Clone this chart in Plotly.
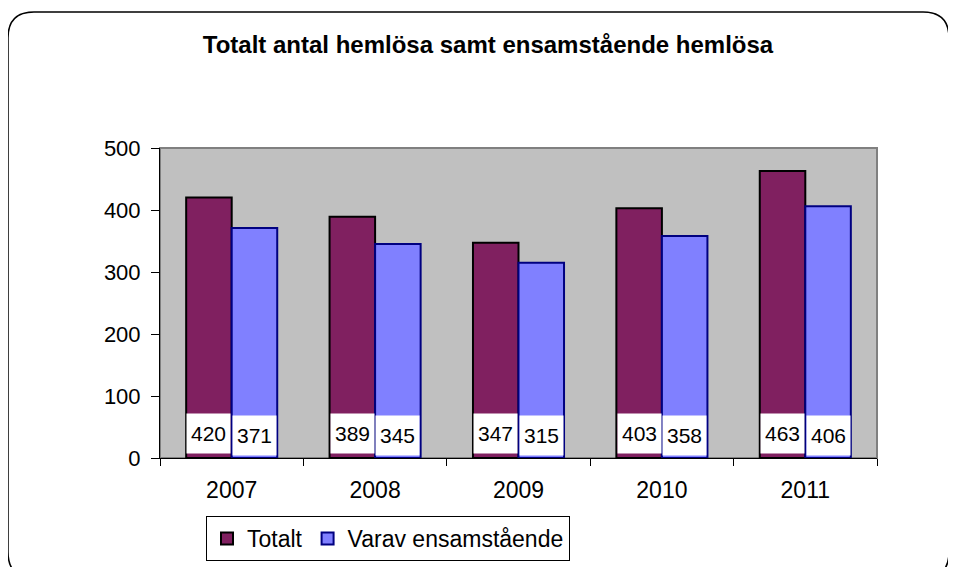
import plotly.graph_objects as go

years = ["2007", "2008", "2009", "2010", "2011"]
totalt = [420, 389, 347, 403, 463]
ensam = [371, 345, 315, 358, 406]
y_ticks = [0, 100, 200, 300, 400, 500]

OFF = 8  # page body margin
W, H = 956 - 2 * OFF, 575 - 2 * OFF
L, R, T, B = 160 - OFF, 877 - OFF, 148 - OFF, 458 - OFF

def px(X):
    return (X - OFF - L) / (R - L)

def py(Y):
    return (B - (Y - OFF)) / (B - T)

FONT = "Liberation Sans, Arial, sans-serif"

fig = go.Figure()
fig.add_trace(go.Bar(
    x=years, y=totalt, name="Totalt",
    marker=dict(color="#802060", line=dict(color="black", width=2)),
))
fig.add_trace(go.Bar(
    x=years, y=ensam, name="Varav ensamstående",
    marker=dict(color="#8080FF", line=dict(color="#000080", width=2)),
))

bar_px = 45.5
annotations = []
for i, yr in enumerate(years):
    for vals, shift, ys in ((totalt, -bar_px / 2, 0), (ensam, bar_px / 2, -2)):
        annotations.append(dict(
            x=i, y=39.5, xref="x", yref="y", xshift=shift, yshift=ys,
            text=str(vals[i]), showarrow=False,
            bgcolor="white", width=41, height=37,
            font=dict(family=FONT, size=21, color="black"),
        ))

# rounded outer border (page pixel coords -> paper coords)
x0, y0, x1, y1, r = 8, 12, 949, 578, 26
path = (
    f"M {px(x0 + r)},{py(y0)} L {px(x1 - r)},{py(y0)} "
    f"Q {px(x1)},{py(y0)} {px(x1)},{py(y0 + r)} "
    f"L {px(x1)},{py(y1 - r)} Q {px(x1)},{py(y1)} {px(x1 - r)},{py(y1)} "
    f"L {px(x0 + r)},{py(y1)} Q {px(x0)},{py(y1)} {px(x0)},{py(y1 - r)} "
    f"L {px(x0)},{py(y0 + r)} Q {px(x0)},{py(y0)} {px(x0 + r)},{py(y0)} Z"
)

shapes = [
    dict(type="path", path=path, xref="paper", yref="paper",
         line=dict(color="black", width=1.5), layer="below"),
    dict(type="rect", x0=0, x1=1, y0=0, y1=1, xref="paper", yref="paper",
         line=dict(color="#808080", width=2), layer="below"),
]

fig.update_layout(
    width=W, height=H,
    margin=dict(l=L, r=W - R, t=T, b=H - B, pad=0, autoexpand=False),
    paper_bgcolor="white",
    plot_bgcolor="#C0C0C0",
    barmode="group",
    bargap=0.365,
    bargroupgap=0,
    title=dict(
        text="<b>Totalt antal hemlösa samt ensamstående hemlösa</b>",
        x=px(488), xanchor="center", y=1 - (45 - OFF) / H, yanchor="middle",
        xref="paper",
        font=dict(family=FONT, size=24, color="black"),
    ),
    font=dict(family=FONT, size=22, color="black"),
    xaxis=dict(
        type="category", categoryorder="array", categoryarray=years,
        range=[-0.5, len(years) - 0.5], autorange=False,
        showline=True, linecolor="black", linewidth=1,
        ticks="outside", tickson="boundaries", ticklen=7, tickcolor="black",
        tickfont=dict(family=FONT, size=23), showgrid=False, tickangle=0,
        ticklabelstandoff=11, automargin=False,
    ),
    yaxis=dict(
        range=[0, 500], autorange=False, tickvals=y_ticks, showline=True,
        linecolor="black", linewidth=1, ticks="outside", ticklen=8,
        tickcolor="black", tickfont=dict(family=FONT, size=22),
        showgrid=False, zeroline=False, ticklabelstandoff=6, automargin=False,
    ),
    legend=dict(
        orientation="h",
        xref="container", yref="container",
        x=(206 - OFF) / W, xanchor="left",
        y=(H - (516 - OFF)) / H, yanchor="top",
        bordercolor="black", borderwidth=1, bgcolor="white",
        font=dict(family=FONT, size=23), itemwidth=30,
    ),
    annotations=annotations,
    shapes=shapes,
    showlegend=True,
)

fig.write_html("out.html")
